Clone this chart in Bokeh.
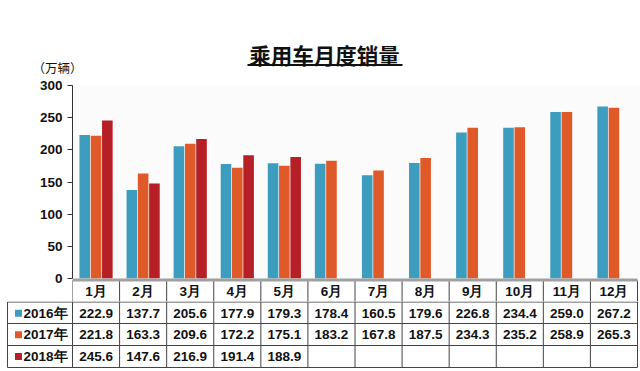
import numpy as np
from bokeh.plotting import figure
from bokeh.models import Range1d, FixedTicker
from bokeh.layouts import column
from bokeh.embed import file_html
from bokeh.resources import INLINE
from bokeh.core.properties import value

# ---- data ----
months = ["1月", "2月", "3月", "4月", "5月", "6月", "7月", "8月", "9月", "10月", "11月", "12月"]
sales_2016 = [222.9, 137.7, 205.6, 177.9, 179.3, 178.4, 160.5, 179.6, 226.8, 234.4, 259.0, 267.2]
sales_2017 = [221.8, 163.3, 209.6, 172.2, 175.1, 183.2, 167.8, 187.5, 234.3, 235.2, 258.9, 265.3]
sales_2018 = [245.6, 147.6, 216.9, 191.4, 188.9]
years = ["2016年", "2017年", "2018年"]
y_ticks = [0, 50, 100, 150, 200, 250, 300]
title_text = "乘用车月度销量"
unit_text = "（万辆）"

colors = ["#3C9DBE", "#E05A29", "#B51F25"]
FONT = "Liberation Sans"
CJK = "Noto Sans CJK SC"
LINE = "#444444"

W = 640
n = len(months)
FL, FR = 72, 3            # chart frame borders (px)
U = (W - FL - FR) / n     # pixels per category
xs = np.arange(n) + 0.5
K = 193 / 300             # pixels per unit of sales

# ---- header (title + unit) ----
HH = 77
hdr = figure(width=W, height=HH, x_range=Range1d(0, W), y_range=Range1d(HH, 0),
             toolbar_location=None, output_backend="svg", frame_align=False,
             x_axis_location=None, y_axis_location=None, min_border=0,
             outline_line_color=None)
hdr.grid.grid_line_color = None
hdr.text(x=[324], y=[54], text=[title_text], text_font=value(CJK), text_font_style="bold",
         text_font_size="21.5px", text_align="center", text_baseline="middle", text_color="#111111")
hdr.segment(x0=[247], x1=[402], y0=[64.5], y1=[64.5], line_width=2, line_color="#111111")
hdr.text(x=[32], y=[67], text=[unit_text], text_font=value(CJK), text_font_size="12.5px",
         text_align="left", text_baseline="middle", text_color="#111111")

# ---- chart (includes the month header row of the table) ----
ybot = -(301 - 278) / K
p = figure(width=W, height=8 + 216, x_range=Range1d(0, n + FR / U), y_range=Range1d(ybot, 300),
           x_axis_location=None, toolbar_location=None, output_backend="svg", frame_align=False,
           min_border_left=FL, min_border_right=0, min_border_top=8, min_border_bottom=0,
           outline_line_color=None, background_fill_color="#FBFBFB")
p.grid.grid_line_color = None
off = 0.24
bw = 0.225
p.vbar(x=xs - off, top=sales_2016, width=bw, fill_color=colors[0], line_color=None)
p.vbar(x=xs, top=sales_2017, width=bw, fill_color=colors[1], line_color=None)
p.vbar(x=xs[:len(sales_2018)] + off, top=sales_2018, width=bw, fill_color=colors[2], line_color=None)

# white area under zero (table header row)
p.quad(left=[0], right=[n + FR / U], bottom=[ybot], top=[-0.3], fill_color="white", line_color=None)
vx = [float(i) for i in range(n + 1)]
p.segment(x0=vx, x1=vx, y0=[ybot] * len(vx), y1=[-3] * len(vx), line_color=LINE, line_width=1)
p.segment(x0=[0], x1=[n], y0=[-1.6 / K], y1=[-1.6 / K], line_width=3, line_color="#A0A0A0")
p.text(x=xs, y=[-13 / K] * n, text=months, text_align="center", text_baseline="middle",
       text_font=value(FONT), text_font_style="bold", text_font_size="13.5px", text_color="#111111")

p.yaxis.bounds = (0, 300)
p.yaxis.ticker = FixedTicker(ticks=y_ticks)
p.yaxis.major_label_text_font = FONT
p.yaxis.major_label_text_font_style = "bold"
p.yaxis.major_label_text_font_size = "13.5px"
p.yaxis.major_label_text_color = "#111111"
p.yaxis.major_tick_out = 5
p.yaxis.major_tick_in = 0
p.yaxis.minor_tick_line_color = None
p.yaxis.axis_line_color = "#333333"
p.yaxis.major_tick_line_color = "#333333"
p.yaxis.major_label_standoff = 5

# ---- table body ----
left = -FL / U
TH = 70
t = figure(width=W, height=TH, x_range=Range1d(left, n + FR / U), y_range=Range1d(TH, 0),
           toolbar_location=None, output_backend="svg", frame_align=False,
           x_axis_location=None, y_axis_location=None, min_border=0,
           outline_line_color=None)
t.grid.grid_line_color = None

hy = [0.5, 22, 44, 66]
xl = left + 7 / U
t.segment(x0=vx, x1=vx, y0=[0] * len(vx), y1=[hy[-1]] * len(vx), line_color=LINE, line_width=1)
t.segment(x0=[xl], x1=[xl], y0=[hy[0]], y1=[hy[-1]], line_color=LINE, line_width=1)
t.segment(x0=[xl] * len(hy), x1=[n] * len(hy), y0=hy, y1=hy, line_color=LINE, line_width=1)

txt_kw = dict(text_font=value(FONT), text_font_style="bold", text_font_size="13.5px",
              text_baseline="middle", text_color="#111111")
row_y = [11.8, 33.3, 55]
for series, ry in zip([sales_2016, sales_2017, sales_2018], row_y):
    t.text(x=xs[:len(series)], y=[ry] * len(series), text=[f"{v:.1f}" for v in series],
           text_align="center", **txt_kw)
t.scatter(x=[left + 18 / U] * 3, y=row_y, marker="square", size=7, fill_color=colors, line_color=None)
t.text(x=[left + 23 / U] * 3, y=row_y, text=years, text_align="left", **txt_kw)

layout = column(hdr, p, t, spacing=0)
open("out.html", "w").write(file_html(layout, INLINE))
